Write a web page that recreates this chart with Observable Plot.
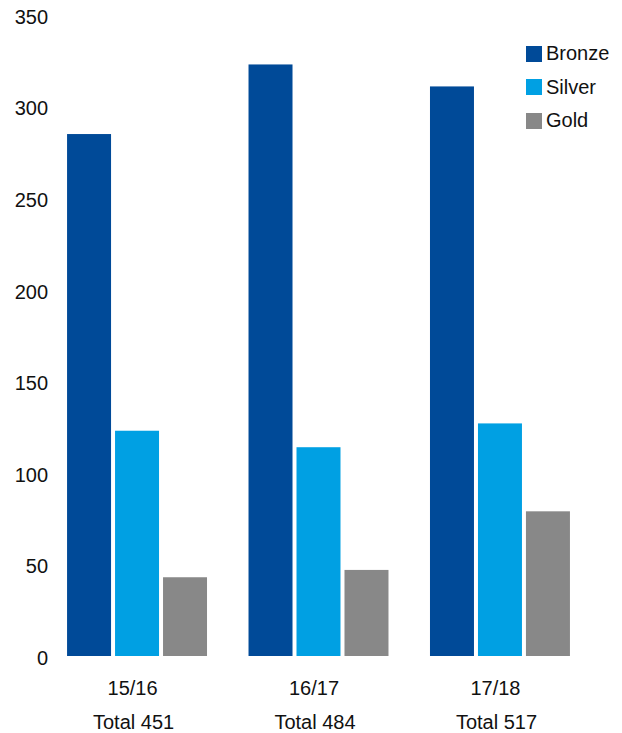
<!DOCTYPE html>
<html>
<head>
<meta charset="utf-8">
<script src="https://cdn.jsdelivr.net/npm/d3@7"></script>
<script src="https://cdn.jsdelivr.net/npm/@observablehq/plot@0.6"></script>
<style>
  html, body { margin: 0; padding: 0; background: #fff; }
  #wrap { position: relative; width: 622px; height: 733px; font-family: "Liberation Sans", Arial, sans-serif; }
  #legend { position: absolute; left: 526px; top: 37px; }
  .lg-swatches { display: flex !important; flex-direction: column; align-items: flex-start; font-family: "Liberation Sans", Arial, sans-serif !important; font-size: 20px !important; line-height: 33.5px; color: #111; margin: 0 !important; }
  .lg-swatch { margin: 0 !important; display: flex; align-items: center; height: 33.5px; }
  .lg-swatch > svg { margin-right: 4px !important; }
</style>
</head>
<body>
<div id="wrap"></div>
<script>
const periods = ["15/16", "16/17", "17/18"];
const totals = [451, 484, 517];
const medals = ["Bronze", "Silver", "Gold"];
const bronze = [285, 323, 311];
const silver = [123, 114, 127];
const gold = [43, 47, 79];
const colors = ["#004A98", "#00A0E3", "#888888"];
const yTicks = [0, 50, 100, 150, 200, 250, 300, 350];

const series = [bronze, silver, gold];
const data = periods.flatMap((p, i) => medals.map((m, j) => ({period: p, medal: m, value: series[j][i]})));

const font = "\"Liberation Sans\", Arial, sans-serif";

const chart = Plot.plot({
  width: 622,
  height: 733,
  marginLeft: 50,
  marginRight: 35,
  marginTop: 15,
  marginBottom: 77,
  style: {fontFamily: font, color: "#111", background: "#fff"},
  fx: {domain: periods, paddingInner: 0.2287, paddingOuter: 0.094, round: false, label: null},
  x: {domain: medals, paddingInner: 0.0833, paddingOuter: 0, round: false, axis: null},
  y: {domain: [0, 350], label: null},
  color: {domain: medals, range: colors},
  marks: [
    Plot.barY(data, {fx: "period", x: "medal", y: "value", fill: "medal"}),
    Plot.axisY({ticks: yTicks, tickSize: 0, tickPadding: 19.5, fontSize: 20, dy: 2, label: null}),
    Plot.axisFx({anchor: "bottom", tickSize: 0, tickPadding: 24, fontSize: 20, dx: -5, label: null, tickFormat: d => d}),
    Plot.axisFx({anchor: "bottom", tickSize: 0, tickPadding: 58, fontSize: 20, dx: -4, label: null, tickFormat: d => "Total " + totals[periods.indexOf(d)]})
  ]
});

const wrap = document.getElementById("wrap");
wrap.appendChild(chart);

const legend = Plot.legend({
  color: {domain: medals, range: colors},
  legend: "swatches",
  swatchSize: 16,
  className: "lg"
});
const lgDiv = document.createElement("div");
lgDiv.id = "legend";
lgDiv.appendChild(legend);
wrap.appendChild(lgDiv);
</script>
</body>
</html>
